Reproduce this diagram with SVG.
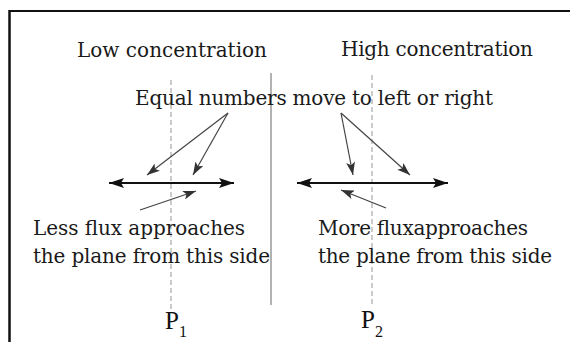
<svg xmlns="http://www.w3.org/2000/svg" width="570" height="342" viewBox="0 0 570 342">
<defs>
<style>
.t{font-family:"DejaVu Serif","Liberation Serif",serif;font-size:20px;fill:#1a1a1a}
.p{font-family:"Liberation Serif","Times New Roman",serif;font-size:25px;fill:#111}
.s{font-family:"Liberation Serif","Times New Roman",serif;font-size:16px;fill:#111}
.dash{stroke:#aaa;stroke-width:1.2;stroke-dasharray:5,3;fill:none}
.thin{stroke:#444;stroke-width:1.2;fill:none}
.thick{stroke:#111;stroke-width:2.2;fill:none}
</style>
<marker id="big" markerUnits="userSpaceOnUse" markerWidth="15" markerHeight="10" refX="15" refY="5" orient="auto-start-reverse">
<path d="M0,0 L15,5 L0,10 L3,5 z" fill="#111"/>
</marker>
<marker id="sm" markerUnits="userSpaceOnUse" markerWidth="13" markerHeight="9" refX="13" refY="4.5" orient="auto">
<path d="M0,0 L13,4.5 L0,9 L3,4.5 z" fill="#333"/>
</marker>
</defs>
<rect width="570" height="342" fill="#fff"/>
<g id="frame">
<line x1="9" y1="11" x2="570" y2="11" stroke="#111" stroke-width="2"/>
<line x1="9.5" y1="10" x2="9.5" y2="342" stroke="#111" stroke-width="2.5"/>
</g>
<g id="divider">
<line x1="271" y1="73" x2="271" y2="305" stroke="#999" stroke-width="1.5"/>
</g>
<g id="planes">
<line class="dash" x1="171" y1="80" x2="171" y2="312"/>
<line class="dash" x1="372" y1="75" x2="372" y2="306"/>
</g>
<g id="labels">
<text class="t" x="77" y="57" textLength="190" lengthAdjust="spacing">Low concentration</text>
<text class="t" x="341" y="56" textLength="192" lengthAdjust="spacing">High concentration</text>
<text class="t" x="135" y="105" textLength="358" lengthAdjust="spacing">Equal numbers move to left or right</text>
<text class="t" x="33" y="235" textLength="212" lengthAdjust="spacing">Less flux approaches</text>
<text class="t" x="33" y="263" textLength="237" lengthAdjust="spacing">the plane from this side</text>
<text class="t" x="318" y="235" textLength="210" lengthAdjust="spacing">More fluxapproaches</text>
<text class="t" x="318" y="263" textLength="234" lengthAdjust="spacing">the plane from this side</text>
</g>
<g id="P1">
<text class="p" x="165" y="329">P<tspan class="s" dy="8">1</tspan></text>
</g>
<g id="P2">
<text class="p" x="361" y="328">P<tspan class="s" dy="9">2</tspan></text>
</g>
<g id="connectors">
<line class="thick" x1="109" y1="183" x2="234" y2="183" marker-start="url(#big)" marker-end="url(#big)"/>
<line class="thick" x1="297" y1="183" x2="448" y2="183" marker-start="url(#big)" marker-end="url(#big)"/>
<line class="thin" x1="228" y1="113" x2="147" y2="175" marker-end="url(#sm)"/>
<line class="thin" x1="228" y1="113" x2="193" y2="175" marker-end="url(#sm)"/>
<line class="thin" x1="341" y1="113" x2="353" y2="175" marker-end="url(#sm)"/>
<line class="thin" x1="341" y1="113" x2="410" y2="175" marker-end="url(#sm)"/>
<line class="thin" x1="140" y1="210" x2="196" y2="191" stroke="#555" marker-end="url(#sm)"/>
<line class="thin" x1="386" y1="208" x2="341" y2="190" stroke="#555" marker-end="url(#sm)"/>
</g>
</svg>
